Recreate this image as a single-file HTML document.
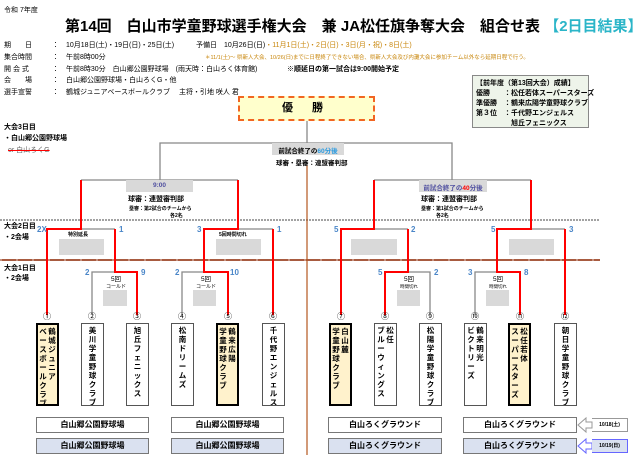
<!DOCTYPE html>
<html><head><meta charset="utf-8"><style>
*{margin:0;padding:0;box-sizing:border-box}
body{width:635px;height:460px;position:relative;background:#fff;font-family:"Liberation Sans","Noto Sans CJK JP",sans-serif;color:#000;overflow:hidden}
.a{position:absolute;white-space:nowrap}
.s{font-size:7px}
.t{position:absolute;top:323px;width:23px;height:83px;border:1px solid #555;background:#fff;display:flex;flex-direction:row-reverse;justify-content:center;gap:1px;padding-top:2px;overflow:hidden}
.t span{display:block;width:8px;font-size:7.5px;line-height:9px;font-weight:bold;word-break:break-all;white-space:normal;text-align:center}
.w{background:#fff2cc;border:2px solid #000}
.n{position:absolute;top:311px;width:12px;font-size:8px;text-align:center}
.v{position:absolute;height:16px;border:1px solid #777;font-size:8px;font-weight:bold;text-align:center;line-height:14px}
.g{position:absolute;background:#d9d9d9}
.sc{position:absolute;font-size:8px;font-weight:bold;color:#4a86c8}
</style></head><body>
<svg width="635" height="460" style="position:absolute;left:0;top:0">
<line x1="0" y1="220" x2="600" y2="220" stroke="#444" stroke-dasharray="2,1" stroke-width="1"/>
<line x1="0" y1="260" x2="600" y2="260" stroke="#8b2500" stroke-width="1.5"/>
<line x1="0" y1="260" x2="600" y2="260" stroke="#fff" stroke-width="0.6" stroke-dasharray="2,14"/>
<line x1="307" y1="165" x2="307" y2="455" stroke="#b5581e" stroke-width="1.2"/>
<g fill="none" stroke="#888" stroke-width="1.3">
<polyline points="307,121 307,143"/>
<polyline points="160,180 160,143 452,143 452,180"/>
<polyline points="81,180 238,180"/>
<polyline points="374,180 531,180"/>
<polyline points="47,229 115,229"/><polyline points="204,229 273,229"/>
<polyline points="341,229 408,229"/><polyline points="497,229 565,229"/>
<polyline points="92,315 92,272 137,272"/><polyline points="182,315 182,272 228,272"/>
<polyline points="385,272 430,272 430,315"/><polyline points="475,315 475,272 520,272"/>
</g>
<g fill="none" stroke="#f00" stroke-width="2">
<polyline points="47,315 47,229 81,229 81,180"/>
<polyline points="137,315 137,272 115,272 115,229"/>
<polyline points="228,315 228,272 204,272 204,229 238,229 238,180"/>
<polyline points="273,315 273,229"/>
<polyline points="341,315 341,229 374,229 374,180"/>
<polyline points="385,315 385,272 408,272 408,229"/>
<polyline points="520,315 520,272 497,272 497,229 531,229 531,180"/>
<polyline points="565,315 565,229"/>
</g>
<path d="M578,425 l8,-7 v4 h6 v6 h-6 v4z" fill="#fff" stroke="#999"/>
<path d="M578,446 l8,-7 v4 h6 v6 h-6 v4z" fill="#fff" stroke="#66f"/>
</svg>

<div class="a" style="left:4px;top:5px;font-size:7px">令和 7年度</div>
<div class="a" style="left:65px;top:15px;font-size:15px;font-weight:bold">第14回　白山市学童野球選手権大会　兼 JA松任旗争奪大会　組合せ表 <span style="color:#2bb5c8">【2日目結果】</span></div>
<div class="a s" style="left:4px;top:40px">期　　日</div><div class="a s" style="left:52px;top:40px">：　10月18日(土)・19日(日)・25日(土)</div>
<div class="a s" style="left:196px;top:40px">予備日　10月26日(日)<span style="color:#c8860b">・11月1日(土)・2日(日)・3日(月・祝)・8日(土)</span></div>
<div class="a s" style="left:4px;top:52px">集合時間</div><div class="a s" style="left:52px;top:52px">：　午前8時00分</div>
<div class="a" style="left:205px;top:53px;font-size:5.5px;color:#c8860b">＊11/1(土)〜 県新人大会、10/26(日)までに日程終了できない場合、県新人大会及び内灘大会に参加チーム以外なら延期日程で行う。</div>
<div class="a s" style="left:4px;top:64px">開 会 式</div><div class="a s" style="left:52px;top:64px">：　午前8時30分　白山郷公園野球場　(雨天時：白山ろく体育館)</div>
<div class="a s" style="left:287px;top:64px;font-weight:bold">※順延日の第一試合は9:00開始予定</div>
<div class="a s" style="left:4px;top:75px">会　　場</div><div class="a s" style="left:52px;top:75px">：　白山郷公園野球場・白山ろくG・他</div>
<div class="a s" style="left:4px;top:87px">選手宣誓</div><div class="a s" style="left:52px;top:87px">：　鶴城ジュニアベースボールクラブ　 主将・引地 咲人 君</div>

<div class="a" style="left:238px;top:96px;width:137px;height:25px;background:#ffffcc;border:2px dashed #f26522;font-size:11px;font-weight:bold;text-align:center;line-height:21px;letter-spacing:8px">優 勝</div>
<div class="a" style="left:472px;top:75px;width:117px;height:53px;background:#eef4ea;border:1px solid #888;font-size:7px;font-weight:bold;line-height:10px;padding:3px 3px">【前年度（第13回大会）成績】<br>優勝　　：松任若体スーパースターズ<br>準優勝　：鶴来広陽学童野球クラブ<br>第３位　：千代野エンジェルス<br>　　　　　旭丘フェニックス</div>

<div class="a s" style="left:4px;top:122px;font-weight:bold">大会3日目</div>
<div class="a s" style="left:4px;top:133px;font-weight:bold">・白山郷公園野球場</div>
<div class="a s" style="left:8px;top:145px;color:#666;text-decoration:line-through;text-decoration-color:#f00">or 白山ろくG</div>
<div class="a s" style="left:4px;top:221px;font-weight:bold">大会2日目</div>
<div class="a s" style="left:4px;top:232px;font-weight:bold">・2会場</div>
<div class="a s" style="left:4px;top:263px;font-weight:bold">大会1日目</div>
<div class="a s" style="left:4px;top:273px;font-weight:bold">・2会場</div>

<div class="g" style="left:272px;top:143px;width:72px;height:12px"></div>
<div class="a" style="left:272px;top:145px;width:72px;font-size:6.5px;text-align:center;font-weight:bold">前試合終了の<span style="color:#2b9be0">60分後</span></div>
<div class="a" style="left:276px;top:157px;font-size:6.5px;font-weight:bold">球審・塁審：連盟審判部</div>

<div class="g" style="left:126px;top:180px;width:67px;height:12px"></div>
<div class="a" style="left:126px;top:182px;width:67px;font-size:6.5px;text-align:center;color:#5050a0;font-weight:bold">9:00</div>
<div class="a" style="left:128px;top:194px;font-size:7px;font-weight:bold">球審：連盟審判部</div>
<div class="a" style="left:129px;top:205px;font-size:5px;font-weight:bold">塁審：第2試合のチームから</div>
<div class="a" style="left:170px;top:212px;font-size:5px;font-weight:bold">各2名</div>

<div class="g" style="left:419px;top:180px;width:68px;height:12px"></div>
<div class="a" style="left:419px;top:182px;width:68px;font-size:6.5px;text-align:center;color:#5050a0;font-weight:bold">前試合終了の<span style="color:#f00">40</span>分後</div>
<div class="a" style="left:421px;top:194px;font-size:7px;font-weight:bold">球審：連盟審判部</div>
<div class="a" style="left:421px;top:205px;font-size:5px;font-weight:bold">塁審：第1試合のチームから</div>
<div class="a" style="left:436px;top:212px;font-size:5px;font-weight:bold">各2名</div>

<div class="a" style="left:68px;top:231px;font-size:5px;font-weight:bold">特別延長</div>
<div class="a" style="left:219px;top:231px;font-size:5px;font-weight:bold">5回時間切れ</div>
<div class="g" style="left:59px;top:239px;width:45px;height:16px"></div>
<div class="g" style="left:216px;top:239px;width:45px;height:16px"></div>
<div class="g" style="left:351px;top:239px;width:46px;height:16px"></div>
<div class="g" style="left:509px;top:239px;width:45px;height:16px"></div>

<div class="a" style="left:104px;top:273px;font-size:6.5px;width:24px;text-align:center">5回<br><span style="font-size:5px">コールド</span></div>
<div class="a" style="left:194px;top:273px;font-size:6.5px;width:24px;text-align:center">5回<br><span style="font-size:5px">コールド</span></div>
<div class="a" style="left:397px;top:273px;font-size:6.5px;width:24px;text-align:center">5回<br><span style="font-size:4.5px">時間切れ</span></div>
<div class="a" style="left:486px;top:273px;font-size:6.5px;width:24px;text-align:center">5回<br><span style="font-size:4.5px">時間切れ</span></div>
<div class="g" style="left:103px;top:290px;width:24px;height:16px"></div>
<div class="g" style="left:193px;top:290px;width:23px;height:16px"></div>
<div class="g" style="left:397px;top:290px;width:23px;height:16px"></div>
<div class="g" style="left:486px;top:290px;width:23px;height:16px"></div>

<div class="sc" style="left:37px;top:225px">2X</div><div class="sc" style="left:119px;top:225px">1</div>
<div class="sc" style="left:197px;top:225px">3</div><div class="sc" style="left:277px;top:225px">1</div>
<div class="sc" style="left:334px;top:225px">5</div><div class="sc" style="left:411px;top:225px">2</div>
<div class="sc" style="left:491px;top:225px">5</div><div class="sc" style="left:569px;top:225px">3</div>
<div class="sc" style="left:85px;top:268px">2</div><div class="sc" style="left:141px;top:268px">9</div>
<div class="sc" style="left:175px;top:268px">2</div><div class="sc" style="left:230px;top:268px">10</div>
<div class="sc" style="left:378px;top:268px">5</div><div class="sc" style="left:434px;top:268px">2</div>
<div class="sc" style="left:468px;top:268px">3</div><div class="sc" style="left:524px;top:268px">8</div>

<div class="n" style="left:41px">①</div><div class="n" style="left:86px">②</div><div class="n" style="left:131px">③</div>
<div class="n" style="left:176px">④</div><div class="n" style="left:222px">⑤</div><div class="n" style="left:267px">⑥</div>
<div class="n" style="left:335px">⑦</div><div class="n" style="left:379px">⑧</div><div class="n" style="left:424px">⑨</div>
<div class="n" style="left:469px">⑩</div><div class="n" style="left:514px">⑪</div><div class="n" style="left:559px">⑫</div>

<div class="t w" style="left:36px"><span>鶴城ジュニア</span><span>ベースボールクラブ</span></div>
<div class="t" style="left:81px"><span>美川学童野球クラブ</span></div>
<div class="t" style="left:126px"><span>旭丘フェニックス</span></div>
<div class="t" style="left:171px"><span>松南ドリームズ</span></div>
<div class="t w" style="left:216px"><span>鶴来広陽</span><span>学童野球クラブ</span></div>
<div class="t" style="left:262px"><span>千代野エンジェルス</span></div>
<div class="t w" style="left:329px"><span>白山麓</span><span>学童野球クラブ</span></div>
<div class="t" style="left:374px"><span>松任</span><span>ブルーウィングス</span></div>
<div class="t" style="left:419px"><span>松陽学童野球クラブ</span></div>
<div class="t" style="left:464px"><span>鶴来明光</span><span>ビクトリーズ</span></div>
<div class="t w" style="left:508px"><span>松任若体</span><span>スーパースターズ</span></div>
<div class="t" style="left:554px"><span>朝日学童野球クラブ</span></div>

<div class="v" style="left:36px;top:417px;width:113px">白山郷公園野球場</div>
<div class="v" style="left:171px;top:417px;width:113px">白山郷公園野球場</div>
<div class="v" style="left:328px;top:417px;width:114px">白山ろくグラウンド</div>
<div class="v" style="left:463px;top:417px;width:114px">白山ろくグラウンド</div>
<div class="v" style="left:36px;top:438px;width:113px;background:#dae1f0">白山郷公園野球場</div>
<div class="v" style="left:171px;top:438px;width:113px;background:#dae1f0">白山郷公園野球場</div>
<div class="v" style="left:328px;top:438px;width:114px;background:#dae1f0">白山ろくグラウンド</div>
<div class="v" style="left:463px;top:438px;width:114px;background:#dae1f0">白山ろくグラウンド</div>
<div class="a" style="left:592px;top:418px;width:36px;height:14px;border:1px solid #999;border-left:none;font-size:5px;line-height:13px;text-align:center;font-weight:bold">10/18(土)</div>
<div class="a" style="left:592px;top:439px;width:36px;height:14px;border:1px solid #66f;border-left:none;background:#dae1f0;font-size:5px;line-height:13px;text-align:center;font-weight:bold">10/19(日)</div>
</body></html>
